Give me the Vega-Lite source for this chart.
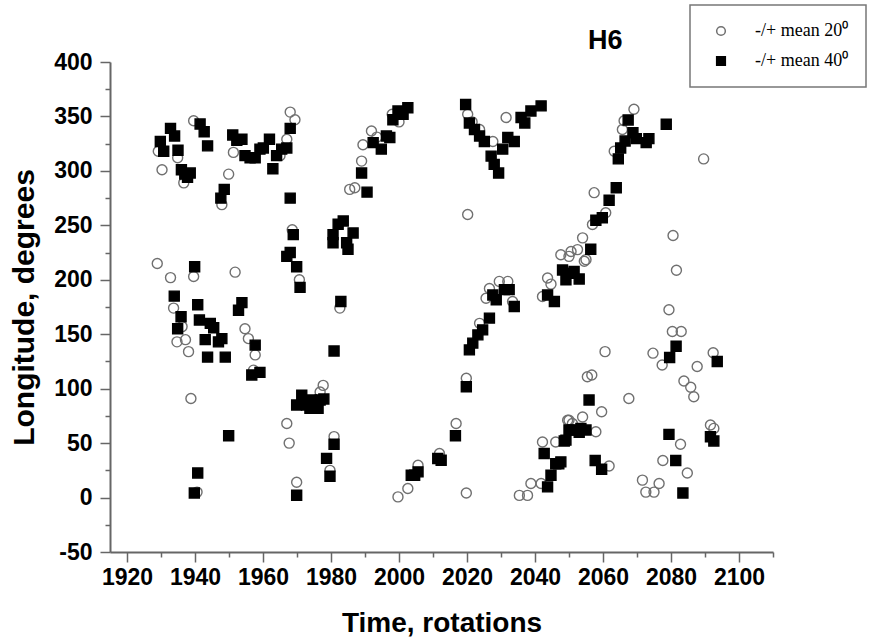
{
  "$schema": "https://vega.github.io/schema/vega-lite/v6.json",
  "autosize": "none",
  "width": 663,
  "height": 490,
  "padding": {"left": 110, "top": 62, "right": 118, "bottom": 91},
  "background": "white",
  "title": {"text": "H6", "anchor": "start", "frame": "group", "dx": 478, "dy": 67, "offset": 16, "fontSize": 27, "fontWeight": "bold", "font": "Liberation Sans", "color": "black"},
  "config": {
    "view": {"stroke": null},
    "axis": {"grid": false, "domainColor": "#666", "domainWidth": 2, "tickColor": "#666", "tickWidth": 1.5, "labelFont": "Liberation Sans", "labelFontWeight": "bold", "labelFontSize": 23, "labelColor": "black", "titleFont": "Liberation Sans", "titleFontWeight": "bold", "titleColor": "black"},
    "legend": {"orient": "none", "legendX": 580, "legendY": -57, "padding": 17, "strokeColor": "#777", "strokeWidth": 1.5, "fillColor": "white", "labelFont": "Liberation Serif", "labelFontSize": 18, "labelColor": "black", "symbolSize": 75, "symbolOffset": 5, "labelOffset": 25, "rowPadding": 12}
  },
  "data": {"values": [
    {"t":1930.3,"lon":301,"s":"20"},{"t":1929.2,"lon":318,"s":"20"},{"t":1939.6,"lon":346,"s":"20"},{"t":1934.9,"lon":312,"s":"20"},{"t":1936.7,"lon":289,"s":"20"},
    {"t":1949.9,"lon":297,"s":"20"},{"t":1947.9,"lon":269,"s":"20"},{"t":1951.3,"lon":317,"s":"20"},{"t":1968,"lon":354,"s":"20"},{"t":1969.4,"lon":347,"s":"20"},
    {"t":1967,"lon":329,"s":"20"},{"t":1965,"lon":314,"s":"20"},{"t":1928.9,"lon":215,"s":"20"},{"t":1932.8,"lon":202,"s":"20"},{"t":1939.6,"lon":203,"s":"20"},
    {"t":1951.8,"lon":207,"s":"20"},{"t":1968.6,"lon":246,"s":"20"},{"t":1970.7,"lon":200,"s":"20"},{"t":1985.5,"lon":283,"s":"20"},{"t":1933.7,"lon":174,"s":"20"},
    {"t":1936.2,"lon":157,"s":"20"},{"t":1934.7,"lon":143,"s":"20"},{"t":1937.2,"lon":145,"s":"20"},{"t":1938.1,"lon":134,"s":"20"},{"t":1938.8,"lon":91,"s":"20"},
    {"t":1954.7,"lon":155,"s":"20"},{"t":1955.7,"lon":146,"s":"20"},{"t":1957.7,"lon":131,"s":"20"},{"t":1957.2,"lon":117,"s":"20"},{"t":1967,"lon":68,"s":"20"},
    {"t":1967.7,"lon":50,"s":"20"},{"t":1969.9,"lon":14,"s":"20"},{"t":1977.7,"lon":103,"s":"20"},{"t":1976.8,"lon":97,"s":"20"},{"t":1980.9,"lon":56,"s":"20"},
    {"t":1979.7,"lon":25,"s":"20"},{"t":1982.6,"lon":174,"s":"20"},{"t":1940.6,"lon":5,"s":"20"},{"t":1989,"lon":309,"s":"20"},{"t":1987,"lon":284.5,"s":"20"},
    {"t":1989.4,"lon":324,"s":"20"},{"t":1991.9,"lon":336.6,"s":"20"},{"t":1993.5,"lon":331,"s":"20"},{"t":1998,"lon":352,"s":"20"},{"t":2000,"lon":345,"s":"20"},
    {"t":2020.2,"lon":260,"s":"20"},{"t":2020.2,"lon":352,"s":"20"},{"t":2023.7,"lon":338,"s":"20"},{"t":2027.6,"lon":327,"s":"20"},{"t":2031.5,"lon":349,"s":"20"},
    {"t":2019.8,"lon":109.6,"s":"20"},{"t":2016.8,"lon":68,"s":"20"},{"t":1999.7,"lon":0.6,"s":"20"},{"t":2002.6,"lon":8.3,"s":"20"},{"t":2005.6,"lon":29.7,"s":"20"},
    {"t":2011.9,"lon":40.5,"s":"20"},{"t":2019.8,"lon":4.2,"s":"20"},{"t":2035.4,"lon":2,"s":"20"},{"t":2037.8,"lon":2,"s":"20"},{"t":2038.8,"lon":12.9,"s":"20"},
    {"t":2041.8,"lon":12.9,"s":"20"},{"t":2042.2,"lon":51,"s":"20"},{"t":2046.1,"lon":51,"s":"20"},{"t":2049.6,"lon":71,"s":"20"},{"t":2054,"lon":74,"s":"20"},
    {"t":2055.4,"lon":111,"s":"20"},{"t":2023.7,"lon":160,"s":"20"},{"t":2025.6,"lon":183,"s":"20"},{"t":2042.2,"lon":184.7,"s":"20"},{"t":2033.4,"lon":180,"s":"20"},
    {"t":2069.1,"lon":356.6,"s":"20"},{"t":2066.2,"lon":346,"s":"20"},{"t":2065.7,"lon":338,"s":"20"},{"t":2063.3,"lon":318,"s":"20"},{"t":2057.4,"lon":280,"s":"20"},
    {"t":2060.8,"lon":261.5,"s":"20"},{"t":2056.9,"lon":250.7,"s":"20"},{"t":2054,"lon":238.5,"s":"20"},{"t":2052.5,"lon":227.7,"s":"20"},{"t":2050,"lon":221.5,"s":"20"},
    {"t":2054.5,"lon":217,"s":"20"},{"t":2047.6,"lon":223,"s":"20"},{"t":2089.6,"lon":311,"s":"20"},{"t":2080.6,"lon":240.6,"s":"20"},{"t":2081.6,"lon":208.7,"s":"20"},
    {"t":2079.4,"lon":172.5,"s":"20"},{"t":2080.4,"lon":152.5,"s":"20"},{"t":2083,"lon":152.5,"s":"20"},{"t":2074.7,"lon":132.6,"s":"20"},{"t":2077.4,"lon":121.8,"s":"20"},
    {"t":2087.7,"lon":120.3,"s":"20"},{"t":2092.4,"lon":133,"s":"20"},{"t":2083.8,"lon":107,"s":"20"},{"t":2085.8,"lon":101.3,"s":"20"},{"t":2086.7,"lon":92.6,"s":"20"},
    {"t":2067.6,"lon":91,"s":"20"},{"t":2060.6,"lon":134,"s":"20"},{"t":2056.7,"lon":112.6,"s":"20"},{"t":2059.6,"lon":78.8,"s":"20"},{"t":2057.9,"lon":60.4,"s":"20"},
    {"t":2091.6,"lon":66.6,"s":"20"},{"t":2092.6,"lon":63.5,"s":"20"},{"t":2082.8,"lon":49,"s":"20"},{"t":2077.6,"lon":34,"s":"20"},{"t":2061.8,"lon":29,"s":"20"},
    {"t":2084.8,"lon":22.6,"s":"20"},{"t":2071.6,"lon":16,"s":"20"},{"t":2076.5,"lon":12.9,"s":"20"},{"t":2072.6,"lon":5,"s":"20"},{"t":2075,"lon":5,"s":"20"},
    {"t":2050,"lon":71,"s":"20"},{"t":2051,"lon":68,"s":"20"},{"t":2043.7,"lon":201.6,"s":"20"},{"t":2029.5,"lon":198.5,"s":"20"},{"t":2032,"lon":198.5,"s":"20"},
    {"t":2026.6,"lon":192,"s":"20"},{"t":2055,"lon":218.5,"s":"20"},{"t":2050.6,"lon":226,"s":"20"},{"t":2044.7,"lon":196,"s":"20"},{"t":2021.5,"lon":345,"s":"20"},
    {"t":1929.8,"lon":327,"s":"40"},{"t":1930.8,"lon":318,"s":"40"},{"t":1932.8,"lon":339,"s":"40"},{"t":1934,"lon":332,"s":"40"},{"t":1935,"lon":319,"s":"40"},
    {"t":1936,"lon":301,"s":"40"},{"t":1937,"lon":297,"s":"40"},{"t":1937.8,"lon":294,"s":"40"},{"t":1938.6,"lon":298,"s":"40"},{"t":1941.5,"lon":343,"s":"40"},
    {"t":1942.7,"lon":336,"s":"40"},{"t":1943.7,"lon":323,"s":"40"},{"t":1947.6,"lon":275,"s":"40"},{"t":1948.6,"lon":283,"s":"40"},{"t":1951.1,"lon":333,"s":"40"},
    {"t":1952.3,"lon":328,"s":"40"},{"t":1953.8,"lon":329,"s":"40"},{"t":1954.7,"lon":314,"s":"40"},{"t":1956.2,"lon":312,"s":"40"},{"t":1957.7,"lon":312,"s":"40"},
    {"t":1959.1,"lon":320,"s":"40"},{"t":1960.1,"lon":321,"s":"40"},{"t":1961.9,"lon":329,"s":"40"},{"t":1962.9,"lon":302,"s":"40"},{"t":1964,"lon":314,"s":"40"},
    {"t":1965.5,"lon":320,"s":"40"},{"t":1967,"lon":321,"s":"40"},{"t":1968,"lon":339,"s":"40"},{"t":1968,"lon":275,"s":"40"},{"t":1939.9,"lon":212,"s":"40"},
    {"t":1933.9,"lon":185,"s":"40"},{"t":1968.9,"lon":241.5,"s":"40"},{"t":1967,"lon":221.5,"s":"40"},{"t":1968,"lon":225,"s":"40"},{"t":1969.9,"lon":212,"s":"40"},
    {"t":1970.9,"lon":193,"s":"40"},{"t":1980.6,"lon":241.5,"s":"40"},{"t":1982.1,"lon":251,"s":"40"},{"t":1983.6,"lon":254,"s":"40"},{"t":1980.6,"lon":234,"s":"40"},
    {"t":1984.6,"lon":234,"s":"40"},{"t":1985,"lon":228,"s":"40"},{"t":1986.5,"lon":243,"s":"40"},{"t":1935.9,"lon":166,"s":"40"},{"t":1934.9,"lon":155,"s":"40"},
    {"t":1940.8,"lon":177,"s":"40"},{"t":1941.3,"lon":163,"s":"40"},{"t":1944.5,"lon":160,"s":"40"},{"t":1945.5,"lon":156,"s":"40"},{"t":1943,"lon":145,"s":"40"},
    {"t":1946.9,"lon":143,"s":"40"},{"t":1947.9,"lon":146,"s":"40"},{"t":1943.7,"lon":129,"s":"40"},{"t":1948.9,"lon":129,"s":"40"},{"t":1953.8,"lon":179,"s":"40"},
    {"t":1952.8,"lon":172,"s":"40"},{"t":1957.7,"lon":140,"s":"40"},{"t":1956.7,"lon":112.6,"s":"40"},{"t":1959.1,"lon":115,"s":"40"},{"t":1949.9,"lon":56.7,"s":"40"},
    {"t":1940.8,"lon":22.6,"s":"40"},{"t":1939.8,"lon":4.2,"s":"40"},{"t":1982.9,"lon":180,"s":"40"},{"t":1980.9,"lon":134.6,"s":"40"},{"t":1969.9,"lon":85,"s":"40"},
    {"t":1971.4,"lon":94,"s":"40"},{"t":1972.8,"lon":85,"s":"40"},{"t":1974.3,"lon":89.6,"s":"40"},{"t":1975.3,"lon":85,"s":"40"},{"t":1976.8,"lon":89.6,"s":"40"},
    {"t":1977.9,"lon":90.5,"s":"40"},{"t":1973.8,"lon":82,"s":"40"},{"t":1976.2,"lon":82,"s":"40"},{"t":1980.9,"lon":49,"s":"40"},{"t":1978.7,"lon":36,"s":"40"},
    {"t":1979.7,"lon":19.6,"s":"40"},{"t":1969.9,"lon":2.1,"s":"40"},{"t":1989,"lon":298,"s":"40"},{"t":1990.6,"lon":280.5,"s":"40"},{"t":1992.4,"lon":326,"s":"40"},
    {"t":1994.8,"lon":320,"s":"40"},{"t":1996.3,"lon":332,"s":"40"},{"t":1997.3,"lon":330.6,"s":"40"},{"t":1998.2,"lon":347,"s":"40"},{"t":1999.7,"lon":355,"s":"40"},
    {"t":2001.2,"lon":352,"s":"40"},{"t":2002.6,"lon":358,"s":"40"},{"t":2019.6,"lon":361,"s":"40"},{"t":2020.7,"lon":344,"s":"40"},{"t":2022.2,"lon":338,"s":"40"},
    {"t":2023.7,"lon":332,"s":"40"},{"t":2025.1,"lon":327,"s":"40"},{"t":2027.1,"lon":313.6,"s":"40"},{"t":2028,"lon":306,"s":"40"},{"t":2029.3,"lon":298,"s":"40"},
    {"t":2030.5,"lon":320,"s":"40"},{"t":2032,"lon":330.6,"s":"40"},{"t":2033.9,"lon":327,"s":"40"},{"t":2035.9,"lon":349,"s":"40"},{"t":2037,"lon":344,"s":"40"},
    {"t":2038.8,"lon":355,"s":"40"},{"t":2041.8,"lon":359.7,"s":"40"},{"t":2027.6,"lon":186,"s":"40"},{"t":2028.6,"lon":181.7,"s":"40"},{"t":2031,"lon":191,"s":"40"},
    {"t":2032.4,"lon":191,"s":"40"},{"t":2033.9,"lon":175.5,"s":"40"},{"t":2043.7,"lon":186,"s":"40"},{"t":2045.7,"lon":180,"s":"40"},{"t":2026.6,"lon":164.8,"s":"40"},
    {"t":2024.6,"lon":154,"s":"40"},{"t":2023.2,"lon":149.4,"s":"40"},{"t":2021.7,"lon":141.8,"s":"40"},{"t":2020.7,"lon":135.6,"s":"40"},{"t":2019.8,"lon":101.8,"s":"40"},
    {"t":2016.6,"lon":56.7,"s":"40"},{"t":2012.4,"lon":34.3,"s":"40"},{"t":2011.4,"lon":35.9,"s":"40"},{"t":2004.6,"lon":20.5,"s":"40"},{"t":2003.6,"lon":20.5,"s":"40"},
    {"t":2005.6,"lon":23.6,"s":"40"},{"t":2055,"lon":62,"s":"40"},{"t":2053,"lon":60,"s":"40"},{"t":2051,"lon":62,"s":"40"},{"t":2049.1,"lon":52.7,"s":"40"},
    {"t":2050,"lon":62,"s":"40"},{"t":2046.1,"lon":31,"s":"40"},{"t":2047,"lon":31,"s":"40"},{"t":2044.7,"lon":20.5,"s":"40"},{"t":2043.7,"lon":9.8,"s":"40"},
    {"t":2042.7,"lon":40.5,"s":"40"},{"t":2055.9,"lon":89.6,"s":"40"},{"t":2067.4,"lon":346.8,"s":"40"},{"t":2068.8,"lon":335,"s":"40"},{"t":2069.8,"lon":329.6,"s":"40"},
    {"t":2066.5,"lon":327.4,"s":"40"},{"t":2065.2,"lon":321,"s":"40"},{"t":2064.5,"lon":311,"s":"40"},{"t":2072.7,"lon":326,"s":"40"},{"t":2073.5,"lon":329.6,"s":"40"},
    {"t":2078.6,"lon":342.8,"s":"40"},{"t":2063.9,"lon":284.5,"s":"40"},{"t":2061.8,"lon":273,"s":"40"},{"t":2059.8,"lon":257,"s":"40"},{"t":2057.9,"lon":254.7,"s":"40"},
    {"t":2056.4,"lon":228,"s":"40"},{"t":2048.1,"lon":209,"s":"40"},{"t":2050,"lon":206,"s":"40"},{"t":2051.5,"lon":207.7,"s":"40"},{"t":2049.1,"lon":200,"s":"40"},
    {"t":2053,"lon":200.7,"s":"40"},{"t":2081.5,"lon":139,"s":"40"},{"t":2079.6,"lon":128.6,"s":"40"},{"t":2093.6,"lon":124.9,"s":"40"},{"t":2091.6,"lon":55.8,"s":"40"},
    {"t":2092.6,"lon":52,"s":"40"},{"t":2079.4,"lon":58,"s":"40"},{"t":2081.4,"lon":34,"s":"40"},{"t":2083.5,"lon":4.2,"s":"40"},{"t":2057.7,"lon":34,"s":"40"},
    {"t":2059.6,"lon":26,"s":"40"},{"t":2053.5,"lon":63.5,"s":"40"},{"t":2048.6,"lon":52,"s":"40"},{"t":2047.6,"lon":32.8,"s":"40"}
  ]},
  "mark": {"type": "point", "strokeWidth": 1.4, "opacity": 1, "size": 100},
  "encoding": {
    "x": {"field": "t", "type": "quantitative", "title": "Time, rotations",
      "scale": {"domain": [1915, 2110], "nice": false, "zero": false},
      "axis": {"values": [1920,1930,1940,1950,1960,1970,1980,1990,2000,2010,2020,2030,2040,2050,2060,2070,2080,2090,2100,2110],
        "labelExpr": "datum.value % 20 === 0 && datum.value <= 2100 ? '' + datum.value : ''",
        "tickSize": {"condition": {"test": "datum.value % 20 === 0", "value": 10}, "value": 5},
        "labelPadding": 4, "titlePadding": 20, "titleFontSize": 28, "labelFlush": false}},
    "y": {"field": "lon", "type": "quantitative", "title": "Longitude, degrees",
      "scale": {"domain": [-50, 400], "nice": false, "zero": false},
      "axis": {"values": [-50,-25,0,25,50,75,100,125,150,175,200,225,250,275,300,325,350,375,400],
        "labelExpr": "datum.value % 50 === 0 ? '' + datum.value : ''",
        "tickSize": {"condition": {"test": "datum.value % 50 === 0", "value": 10}, "value": 5},
        "labelPadding": 8, "titlePadding": 14, "titleFontSize": 30, "labelFlush": false}},
    "shape": {"field": "s", "type": "nominal", "scale": {"domain": ["20", "40"], "range": ["circle", "square"]},
      "legend": {"title": null, "labelExpr": "datum.label === '20' ? '-/+ mean 20⁰        ' : '-/+ mean 40⁰        '"}},
    "fill": {"field": "s", "type": "nominal", "scale": {"domain": ["20", "40"], "range": ["transparent", "black"]},
      "legend": {"title": null, "labelExpr": "datum.label === '20' ? '-/+ mean 20⁰        ' : '-/+ mean 40⁰        '"}},
    "stroke": {"field": "s", "type": "nominal", "scale": {"domain": ["20", "40"], "range": ["#707070", "black"]},
      "legend": {"title": null, "labelExpr": "datum.label === '20' ? '-/+ mean 20⁰        ' : '-/+ mean 40⁰        '"}}
  }
}
